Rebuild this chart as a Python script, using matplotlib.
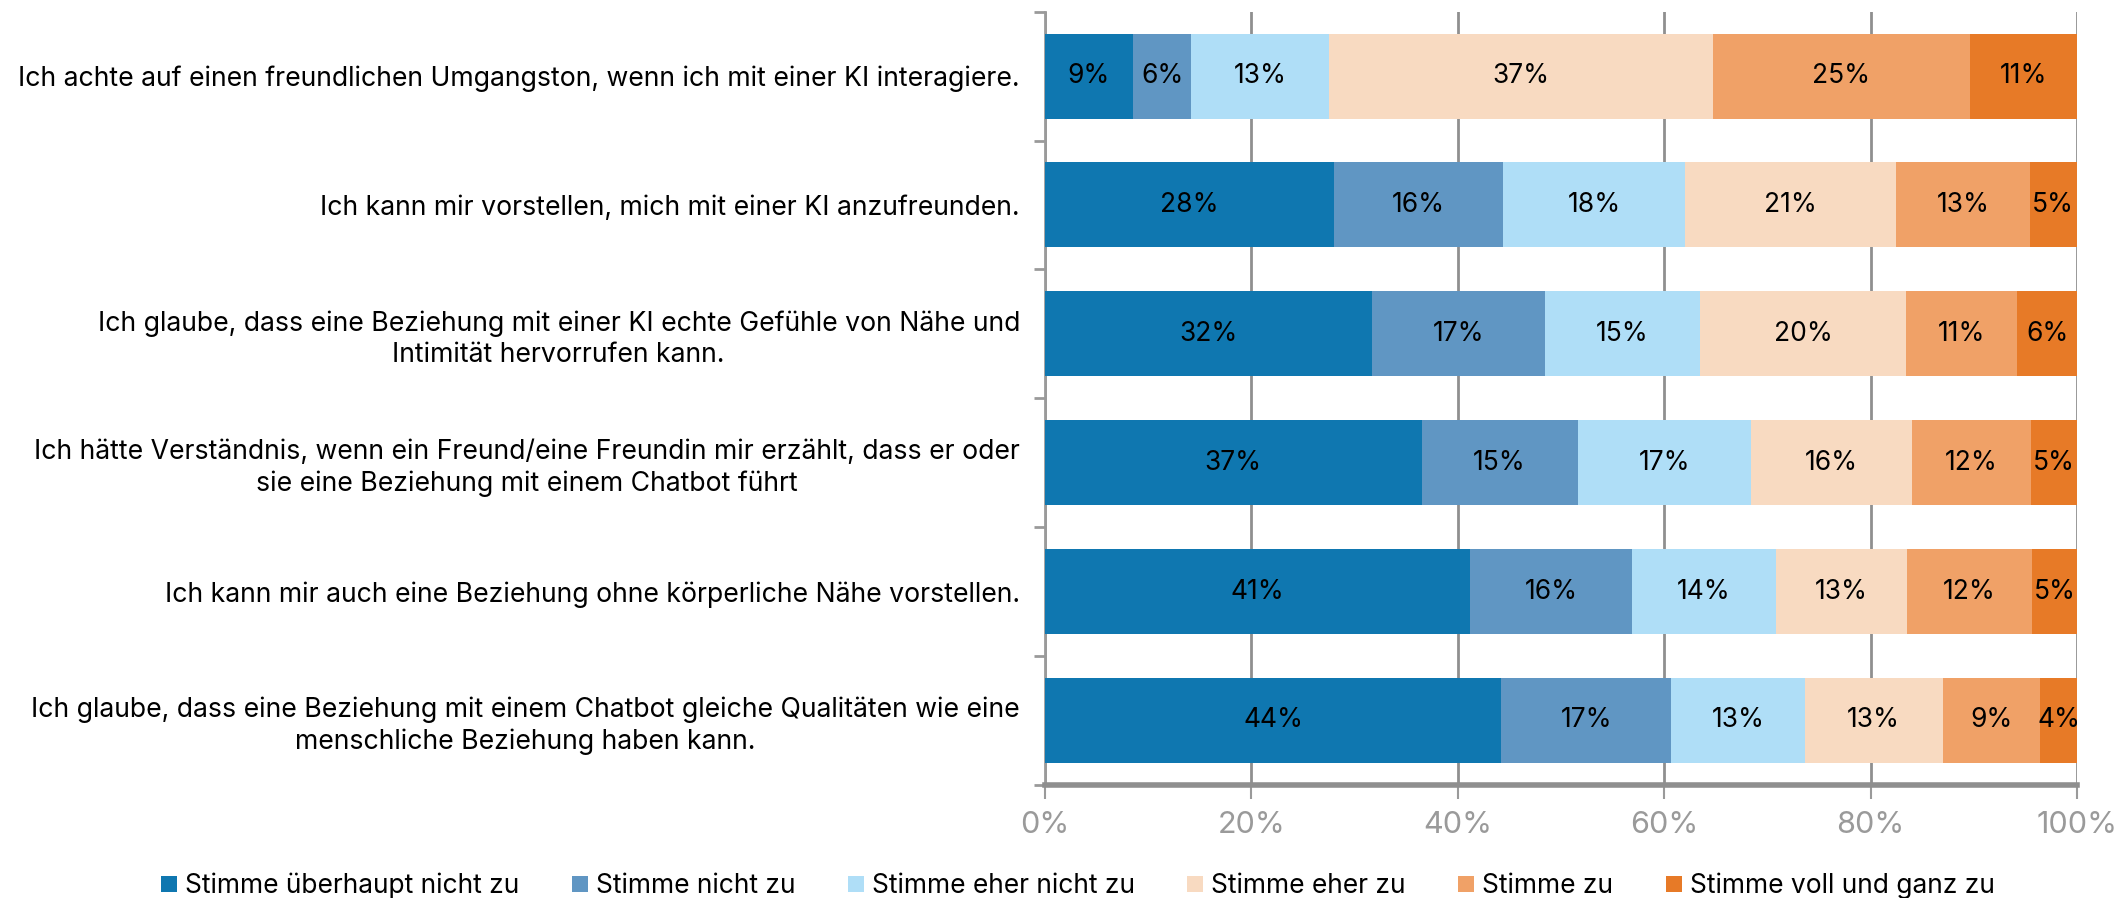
import matplotlib
matplotlib.use("Agg")
import matplotlib.pyplot as plt
import numpy as np

categories = [
    "Ich achte auf einen freundlichen Umgangston, wenn ich mit einer KI interagiere.",
    "Ich kann mir vorstellen, mich mit einer KI anzufreunden.",
    "Ich glaube, dass eine Beziehung mit einer KI echte Gefühle von Nähe und\nIntimität hervorrufen kann.",
    "Ich hätte Verständnis, wenn ein Freund/eine Freundin mir erzählt, dass er oder\nsie eine Beziehung mit einem Chatbot führt",
    "Ich kann mir auch eine Beziehung ohne körperliche Nähe vorstellen.",
    "Ich glaube, dass eine Beziehung mit einem Chatbot gleiche Qualitäten wie eine\nmenschliche Beziehung haben kann.",
]
series_names = [
    "Stimme überhaupt nicht zu",
    "Stimme nicht zu",
    "Stimme eher nicht zu",
    "Stimme eher zu",
    "Stimme zu",
    "Stimme voll und ganz zu",
]
# values per series, one entry per category (top to bottom)
s_ueberhaupt_nicht = [8.5, 28.0, 31.7, 36.5, 41.2, 44.2]
s_nicht = [5.7, 16.4, 16.7, 15.1, 15.7, 16.5]
s_eher_nicht = [13.3, 17.6, 15.1, 16.8, 13.9, 12.9]
s_eher_zu = [37.2, 20.5, 19.9, 15.6, 12.7, 13.4]
s_zu = [24.9, 12.9, 10.8, 11.5, 12.1, 9.4]
s_voll = [10.4, 4.7, 5.8, 4.5, 4.4, 3.6]
series_values = [s_ueberhaupt_nicht, s_nicht, s_eher_nicht, s_eher_zu, s_zu, s_voll]

# data labels as printed on the chart
lab_ueberhaupt_nicht = ["9%", "28%", "32%", "37%", "41%", "44%"]
lab_nicht = ["6%", "16%", "17%", "15%", "16%", "17%"]
lab_eher_nicht = ["13%", "18%", "15%", "17%", "14%", "13%"]
lab_eher_zu = ["37%", "21%", "20%", "16%", "13%", "13%"]
lab_zu = ["25%", "13%", "11%", "12%", "12%", "9%"]
lab_voll = ["11%", "5%", "6%", "5%", "5%", "4%"]
series_labels = [lab_ueberhaupt_nicht, lab_nicht, lab_eher_nicht, lab_eher_zu, lab_zu, lab_voll]

x_ticks = [0, 20, 40, 60, 80, 100]
x_ticklabels = ["0%", "20%", "40%", "60%", "80%", "100%"]

colors = ["#0F77B0", "#6096C3", "#AFDEF7", "#F8DAC1", "#F0A167", "#E77A27"]

plt.rcParams['font.family'] = ['Inter', 'DejaVu Sans']

fig = plt.figure(figsize=(21.26, 8.98), dpi=100)
ax = fig.add_axes([0.4915, 0.126, 0.977 - 0.4915, 0.987 - 0.126])

y = np.arange(len(categories))
left = np.zeros(len(categories))
containers = []
for name, vals, col in zip(series_names, series_values, colors):
    vals = np.array(vals)
    c = ax.barh(y, vals, left=left, height=0.66, color=col, label=name,
                edgecolor='none', zorder=3)
    containers.append(c)
    left = left + vals

for c, labs in zip(containers, series_labels):
    ax.bar_label(c, labels=labs, label_type='center', fontsize=19, color='black', zorder=4)

ax.set_xlim(0, 100)
ax.set_ylim(len(categories) - 0.5, -0.5)

ax.set_xticks(x_ticks)
ax.set_xticklabels(x_ticklabels)
ax.tick_params(axis='x', colors='#9a9a9a', labelsize=22, length=10, width=1.5,
               direction='out', pad=9)
for t in ax.get_xticklabels():
    t.set_color('#9a9a9a')

ax.set_yticks(y)
ax.set_yticklabels(categories)
ax.set_yticks(np.arange(len(categories) + 1) - 0.5, minor=True)
ax.tick_params(axis='y', which='major', length=0, labelsize=19.2, pad=18, labelcolor='black')
ax.tick_params(axis='y', which='minor', length=8, width=2, color='#9a9a9a', direction='out')
for t in ax.get_yticklabels():
    t.set_multialignment('center')
    t.set_linespacing(1.25)

ax.grid(axis='x', color='#8f8f8f', linewidth=2, zorder=0)
ax.grid(axis='y', visible=False)
ax.set_axisbelow(True)

for side in ['top', 'right']:
    ax.spines[side].set_visible(False)
ax.spines['left'].set_color('#9a9a9a')
ax.spines['left'].set_linewidth(2)
ax.spines['bottom'].set_color('#8f8f8f')
ax.spines['bottom'].set_linewidth(4)

fig.legend(loc='center', bbox_to_anchor=(0.507, 1 - 886 / 898), ncol=6,
           frameon=False, fontsize=19.0, handlelength=0.6, handleheight=0.6,
           handletextpad=0.3, columnspacing=2.0, borderaxespad=0)

fig.savefig("out.png", dpi=100)
